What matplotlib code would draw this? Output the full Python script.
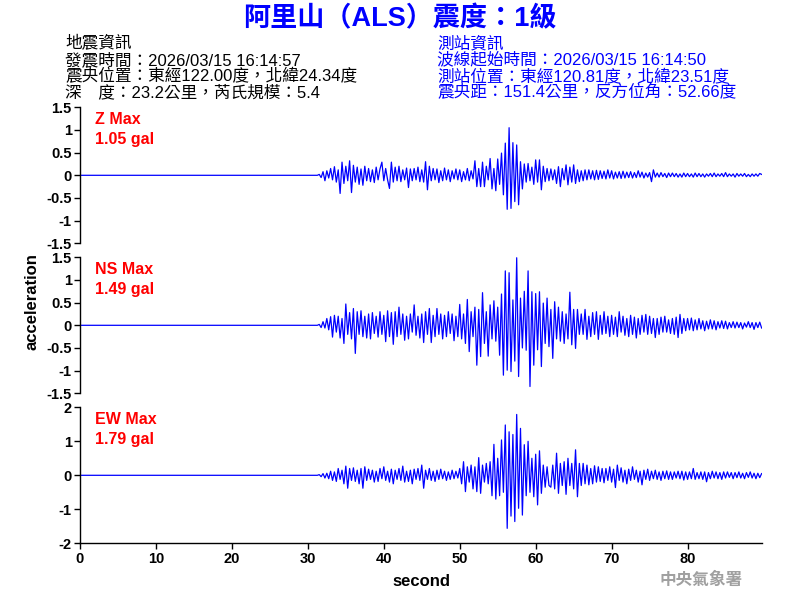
import numpy as np
import matplotlib
matplotlib.use("Agg")
import matplotlib.pyplot as plt

plt.rcParams['font.family'] = ['Liberation Sans', 'Noto Sans CJK TC', 'DejaVu Sans']

# ---- data (acceleration in gal, sampled every 0.25 s from t=31.5 s) ----
t_start = 31.5
dt = 0.25

z_vals = [0.02, -0.05,
    0.08, -0.12, 0.1, -0.06,   0.15, -0.1, 0.19, -0.15,   0.12, -0.4, 0.29, -0.18,
    0.2, -0.12, 0.32, -0.38,   0.22, -0.15, 0.18, -0.2,   0.14, -0.22, 0.2, -0.12,
    0.15, -0.14, 0.12, -0.16,  0.18, -0.1, 0.14, 0.29,    -0.12, 0.15, -0.1, -0.29,
    0.29, -0.15, 0.18, -0.12,  0.2, -0.14, 0.12, -0.1,    0.16, -0.27, 0.14, -0.12,
    0.15, -0.1, 0.18, -0.14,   0.12, -0.15, 0.3, -0.32,   0.2, -0.12, 0.15, -0.1,
    0.14, -0.16, 0.1, -0.12,   0.16, -0.1, 0.12, -0.14,   0.1, -0.08, 0.14, -0.1,
    0.12, -0.14, 0.08, -0.1,   0.15, -0.12, 0.1, -0.08,   0.32, -0.25, 0.15, -0.25,
    0.29, -0.25, 0.2, -0.1,    0.37, -0.3, 0.15, -0.34,   0.36, -0.2, 0.49, -0.43,
    0.71, -0.75, 1.05, -0.73,  0.72, -0.58, 0.67, -0.65,  0.3, -0.3, 0.25, -0.15,
    0.26, -0.12, 0.18, -0.2,   0.34, -0.15, 0.34, -0.32,  0.2, -0.14, 0.15, -0.12,
    0.14, -0.1, 0.12, -0.18,   0.19, -0.25, 0.15, -0.1,   0.23, -0.21, 0.18, -0.15,
    0.23, -0.18, 0.12, -0.14,  0.1, -0.12, 0.12, -0.1,    0.12, -0.08, 0.1, -0.1,
    0.11, -0.09, 0.1, -0.07,   0.09, -0.08, 0.12, -0.06,  0.1, -0.08, 0.07, -0.06,
    0.08, -0.07, 0.09, -0.06,  0.07, -0.05, 0.08, -0.06,  0.06, -0.05, 0.1, -0.04,
    0.07, -0.06, 0.05, -0.04,  0.06, -0.14, 0.12, -0.04,  0.05, -0.04, 0.06, -0.03,
    0.04, -0.05, 0.05, -0.03,  0.05, -0.03, 0.04, -0.04,  0.03, -0.04, 0.05, -0.03,
    0.04, -0.03, 0.03, -0.04,  0.05, -0.03, 0.04, -0.03,  0.03, -0.04, 0.03, -0.02,
    0.04, -0.03, 0.05, -0.03,  0.03, -0.02, 0.04, -0.03,  0.06, -0.03, 0.03, -0.02,
    0.03, -0.04, 0.04, -0.02,  0.03, -0.02, 0.04, -0.03,  0.02, -0.03, 0.03, -0.02,
    0.03, -0.02, 0.04, 0.02]

ns_vals = [0.02, -0.05,
    0.08, -0.06, 0.15, -0.1,   0.19, -0.26, 0.22, -0.15,  0.2, -0.28, 0.15, -0.4,
    0.47, -0.2, 0.28, -0.3,    0.37, -0.62, 0.3, -0.2,    0.32, -0.25, 0.2, -0.28,
    0.25, -0.3, 0.28, -0.18,   0.2, -0.26, 0.3, -0.2,     0.22, -0.36, 0.32, -0.25,
    0.28, -0.42, 0.3, -0.25,   0.4, -0.2, 0.25, -0.33,    0.2, -0.3, 0.25, -0.15,
    0.45, -0.22, 0.2, -0.28,   0.25, -0.38, 0.3, -0.2,    0.37, -0.38, 0.22, -0.25,
    0.37, -0.2, 0.25, -0.3,    0.22, -0.25, 0.3, -0.18,   0.25, -0.34, 0.2, -0.25,
    0.46, -0.3, 0.25, -0.4,    0.57, -0.58, 0.3, -0.25,   0.4, -0.88, 0.35, -0.69,
    0.72, -0.4, 0.3, -0.68,    0.45, -0.3, 0.54, -0.35,   0.4, -0.66, 0.69, -1.1,
    1.2, -0.99, 1.16, -1.02,   0.56, -0.79, 1.49, -1.13,  0.6, -0.5, 0.75, -0.55,
    1.2, -1.35, 0.74, -0.88,   0.7, -0.54, 0.74, -0.91,   0.49, -0.4, 0.6, -0.47,
    0.35, -0.73, 0.52, -0.3,   0.4, -0.35, 0.3, -0.4,     0.25, -0.3, 0.73, -0.43,
    0.35, -0.51, 0.35, -0.2,   0.25, -0.2, 0.35, -0.31,   0.2, -0.25, 0.28, -0.2,
    0.3, -0.31, 0.22, -0.2,    0.3, -0.18, 0.2, -0.25,    0.22, -0.2, 0.18, -0.25,
    0.3, -0.15, 0.2, -0.22,    0.15, -0.25, 0.22, -0.2,   0.18, -0.28, 0.15, -0.2,
    0.22, -0.15, 0.24, -0.2,   0.2, -0.18, 0.15, -0.27,   0.15, -0.2, 0.18, -0.15,
    0.2, -0.15, 0.12, -0.18,   0.15, -0.2, 0.18, -0.27,   0.24, -0.18, 0.15, -0.12,
    0.15, -0.1, 0.16, -0.12,   0.12, -0.1, 0.15, -0.08,   0.1, -0.12, 0.09, -0.08,
    0.12, -0.08, 0.1, -0.1,    0.08, -0.06, 0.1, -0.07,   0.09, -0.08, 0.06, -0.05,
    0.08, -0.06, 0.07, -0.05,  0.06, -0.08, 0.05, -0.04,  0.08, -0.05, 0.06, -0.09,
    0.06, -0.05, 0.07, -0.06]

ew_vals = [0.02, -0.04,
    0.05, -0.08, 0.06, -0.1,   0.12, -0.15, 0.1, -0.18,   0.2, -0.12, 0.15, -0.25,
    0.27, -0.38, 0.2, -0.15,   0.22, -0.18, 0.15, -0.25,  0.2, -0.38, 0.25, -0.15,
    0.18, -0.12, 0.15, -0.2,   0.12, -0.18, 0.2, -0.1,    0.25, -0.15, 0.12, -0.2,
    0.18, -0.25, 0.15, -0.12,  0.2, -0.15, 0.27, -0.2,    0.12, -0.18, 0.15, -0.25,
    0.18, -0.12, 0.2, -0.15,   0.3, -0.38, 0.15, -0.12,   0.2, -0.15, 0.12, -0.18,
    0.15, -0.12, 0.18, -0.1,   0.12, -0.15, 0.1, -0.12,   0.15, -0.1, 0.12, -0.08,
    0.2, -0.25, 0.4, -0.48,    0.25, -0.2, 0.3, -0.4,     0.25, -0.48, 0.52, -0.53,
    0.3, -0.2, 0.35, -0.25,    0.4, -0.6, 0.91, -0.7,     0.5, -0.6, 1.04, -0.5,
    1.48, -1.56, 1.28, -1.2,   1.2, -1.36, 1.79, -0.97,   1.38, -1.17, 0.9, -0.6,
    1.0, -0.5, 0.5, -0.63,     0.62, -0.87, 0.72, -0.53,  0.3, -0.35, 0.25, -0.3,
    -0.35, 0.3, -0.4, 0.65,    -0.53, 0.35, -0.3, 0.4,    -0.56, 0.5, -0.3, 0.35,
    -0.4, 0.75, -0.63, 0.35,   -0.3, 0.35, -0.25, 0.3,    -0.28, 0.2, -0.25, 0.28,
    -0.2, 0.25, -0.18, 0.2,    -0.22, 0.2, -0.15, 0.25,   -0.2, 0.18, -0.36, 0.3,
    -0.15, 0.22, -0.2, 0.15,   -0.25, 0.18, -0.15, 0.25,  -0.12, 0.15, -0.2, 0.12,
    -0.28, 0.15, -0.12, 0.18,  -0.15, 0.12, -0.1, 0.15,   -0.12, 0.1, -0.15, 0.12,
    -0.1, 0.13, -0.12, 0.1,    -0.12, 0.1, -0.08, 0.12,   -0.1, 0.12, -0.14, 0.1,
    -0.12, 0.1, -0.1, 0.2,     -0.12, 0.08, -0.1, 0.1,    -0.12, 0.1, -0.19, 0.08,
    -0.1, 0.12, -0.08, 0.1,    -0.1, 0.08, -0.12, 0.1,    -0.08, 0.1, -0.06, 0.08,
    -0.1, 0.08, -0.07, 0.1,    -0.08, 0.06, -0.1, 0.08,   -0.06, 0.1, -0.08, 0.06,
    -0.1, 0.06, -0.07, 0.05]

channels = ["Z", "NS", "EW"]
max_labels = ["1.05 gal", "1.49 gal", "1.79 gal"]
series = [z_vals, ns_vals, ew_vals]
ylims = [(-1.5, 1.5), (-1.5, 1.5), (-2, 2)]
yticks = [[-1.5, -1, -0.5, 0, 0.5, 1, 1.5], [-1.5, -1, -0.5, 0, 0.5, 1, 1.5], [-2, -1, 0, 1, 2]]
ytick_labels = [["-1.5", "-1", "-0.5", "0", "0.5", "1", "1.5"],
                ["-1.5", "-1", "-0.5", "0", "0.5", "1", "1.5"],
                ["-2", "-1", "0", "1", "2"]]
xticks = [0, 10, 20, 30, 40, 50, 60, 70, 80]

title = "阿里山（ALS）震度：1級"
left_info = ["地震資訊",
             "發震時間：2026/03/15 16:14:57",
             "震央位置：東經122.00度，北緯24.34度",
             "深　度：23.2公里，芮氏規模：5.4"]
right_info = ["測站資訊",
              "波線起始時間：2026/03/15 16:14:50",
              "測站位置：東經120.81度，北緯23.51度",
              "震央距：151.4公里，反方位角：52.66度"]

fig = plt.figure(figsize=(8, 6), dpi=100)
fig.patch.set_facecolor("white")

W, H = 800.0, 600.0
left, right = 80 / W, 762 / W
tops = [107.3, 257.3, 407.3]
height_px = 136.0
axes = []
for i in range(3):
    bottom = 1 - (tops[i] + height_px) / H
    ax = fig.add_axes([left, bottom, right - left, height_px / H])
    axes.append(ax)

for i, ax in enumerate(axes):
    vals = np.array(series[i])
    t = t_start + dt * np.arange(len(vals))
    tt = np.concatenate([[0.0, t_start - dt], t])
    vv = np.concatenate([[0.0, 0.0], vals])
    ax.plot(tt, vv, color="#0000ff", lw=0.9)
    ax.set_xlim(0, 89.8)
    ax.set_ylim(*ylims[i])
    ax.set_yticks(yticks[i])
    ax.set_yticklabels(ytick_labels[i], fontsize=10.5, fontweight="bold")
    for s in ["top", "right"]:
        ax.spines[s].set_visible(False)
    ax.spines["left"].set_linewidth(1.0)
    ax.tick_params(axis="y", direction="out", length=4, width=1, pad=2)
    if i < 2:
        ax.spines["bottom"].set_visible(False)
        ax.set_xticks([])
    else:
        ax.spines["bottom"].set_linewidth(1.0)
        ax.set_xticks(xticks)
        ax.set_xticklabels([str(x) for x in xticks], fontsize=10.5, fontweight="bold")
        ax.tick_params(axis="x", direction="out", length=4, width=1, pad=2)
        ax.set_xlabel("second", fontsize=12, fontweight="bold", labelpad=6)
    ax.text(0.022, 0.965, channels[i] + " Max", transform=ax.transAxes, color="#ff0000",
            fontsize=11.5, fontweight="bold", va="top", ha="left")
    ax.text(0.022, 0.815, max_labels[i], transform=ax.transAxes, color="#ff0000",
            fontsize=11.5, fontweight="bold", va="top", ha="left")
    ax.set_facecolor("none")

fig.text(32 / W, 1 - 302 / H, "acceleration", rotation=90, fontsize=12, fontweight="bold",
         ha="center", va="center")

fig.text(400 / W, 1 - 19 / H, title, color="#0000ff", fontsize=19.5, fontweight="bold",
         ha="center", va="center")

for k, line in enumerate(left_info):
    fig.text(65 / W, 1 - (43.5 + 16.3 * k) / H, line, color="black", fontsize=12,
             fontweight="medium", ha="left", va="center")
for k, line in enumerate(right_info):
    fig.text(437 / W, 1 - (43.5 + 16.3 * k) / H, line, color="#0000ff", fontsize=12,
             fontweight="medium", ha="left", va="center")

fig.text(701 / W, 1 - 580 / H, "中央氣象署", color="#a0a0a0", fontsize=12,
         fontweight="bold", ha="center", va="center")

fig.savefig("out.png", dpi=100, facecolor="white")
